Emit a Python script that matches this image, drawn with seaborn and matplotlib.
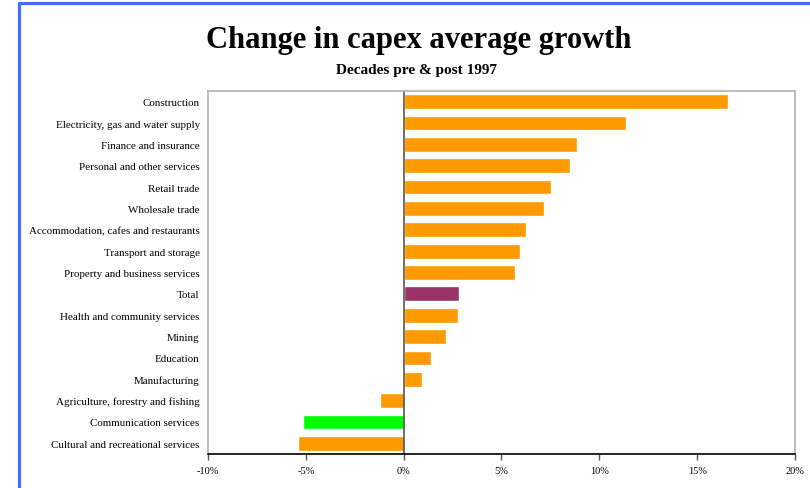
import matplotlib
matplotlib.use('Agg')
import matplotlib.pyplot as plt
import matplotlib.lines as mlines
import seaborn as sns
from matplotlib.ticker import FuncFormatter

# Chart data
industries = ['Construction', 'Electricity, gas and water supply', 'Finance and insurance',
              'Personal and other services', 'Retail trade', 'Wholesale trade',
              'Accommodation, cafes and restaurants', 'Transport and storage',
              'Property and business services', 'Total', 'Health and community services',
              'Mining', 'Education', 'Manufacturing', 'Agriculture, forestry and fishing',
              'Communication services', 'Cultural and recreational services']
growth_change = [16.6, 11.35, 8.85, 8.5, 7.55, 7.15, 6.25, 5.95, 5.7, 2.85, 2.8,
                 2.15, 1.4, 0.95, -1.2, -5.15, -5.4]
x_ticks = [-10, -5, 0, 5, 10, 15, 20]

# Colours: orange for industries, purple for the total, green for communication
bar_colours = {name: '#FF9900' for name in industries}
bar_colours['Total'] = '#993366'
bar_colours['Communication services'] = '#00FF00'

sns.set_style('white')
plt.rcParams['font.family'] = ['Liberation Serif', 'DejaVu Serif']
plt.rcParams['text.color'] = 'black'
plt.rcParams['xtick.color'] = 'black'
plt.rcParams['ytick.color'] = 'black'

fig = plt.figure(figsize=(8.1, 4.89), dpi=100)
ax = fig.add_axes([208 / 810, 34 / 489, 587 / 810, 363 / 489])

sns.barplot(x=growth_change, y=industries, hue=industries, palette=bar_colours,
            orient='h', width=0.69, legend=False, ax=ax, saturation=1)

ax.set_xlim(-10, 20)
ax.set_xticks(x_ticks)
ax.xaxis.set_major_formatter(FuncFormatter(lambda v, p: f'{v:.0f}%'))
ax.set_xlabel('')
ax.set_ylabel('')
ax.axvline(0, color='#555555', linewidth=1.2)

for side in ['top', 'right', 'left']:
    ax.spines[side].set_color('#B0B0B0')
    ax.spines[side].set_linewidth(1.2)
ax.spines['bottom'].set_color('black')
ax.spines['bottom'].set_linewidth(1.2)

ax.tick_params(axis='x', bottom=True, length=4, width=1, color='#555555',
               labelsize=7.5, pad=5)
ax.tick_params(axis='y', left=False, labelsize=7.9, pad=2.5)

fig.text(0.517, 0.918, 'Change in capex average growth', ha='center', va='center',
         fontsize=22, fontweight='bold')
fig.text(0.514, 0.855, 'Decades pre & post 1997', ha='center', va='center',
         fontsize=11, fontweight='bold')

# Blue frame edges visible on the left and top
fig.add_artist(mlines.Line2D([18.5 / 810, 18.5 / 810], [0, 1 - 4 / 489],
                             color='#3F6FFF', linewidth=2.3, transform=fig.transFigure))
fig.add_artist(mlines.Line2D([18.5 / 810, 1], [1 - 4 / 489, 1 - 4 / 489],
                             color='#3F6FFF', linewidth=2.3, transform=fig.transFigure))

fig.savefig('out.png', dpi=100)
